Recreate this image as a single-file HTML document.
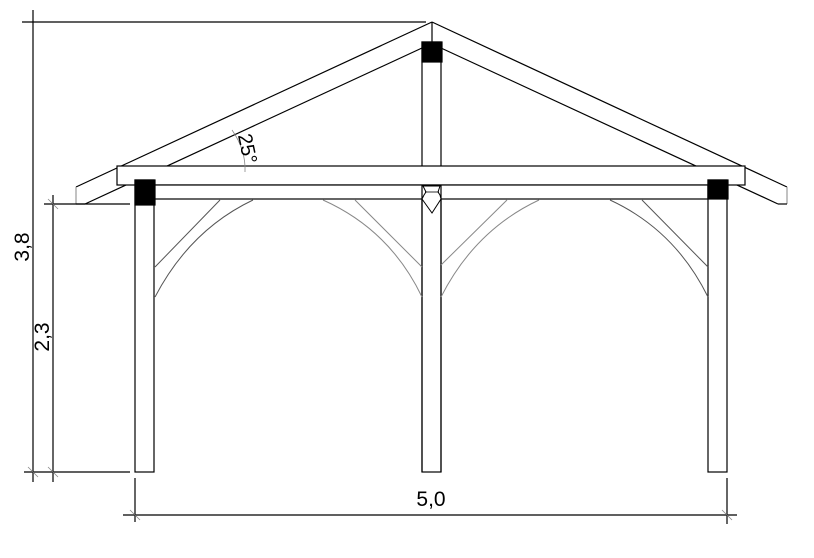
<!DOCTYPE html>
<html><head><meta charset="utf-8"><style>
html,body{margin:0;padding:0;background:#fff;}
svg{display:block;}
text{font-family:"Liberation Sans",sans-serif;fill:#000;}
</style></head><body>
<svg width="814" height="558" viewBox="0 0 814 558" xmlns="http://www.w3.org/2000/svg">
<g fill="none" stroke="#000" stroke-width="1.2">
<polygon points="432,22 787,187 787,204 778,204 441,48 422,48 85,204 76,204 76,187" fill="#fff" stroke="none"/>
<line x1="432" y1="22" x2="76" y2="187"/>
<line x1="432" y1="22" x2="787" y2="187"/>
<line x1="422" y1="48" x2="85" y2="204"/>
<line x1="441" y1="48" x2="778" y2="204"/>
<line x1="76" y1="187" x2="76" y2="204" stroke="#999"/>
<line x1="787" y1="187" x2="787" y2="204" stroke="#999"/>
<line x1="778" y1="204" x2="787" y2="204"/>
<line x1="76" y1="204" x2="85" y2="204"/>
<rect x="422" y="42" width="19" height="430" fill="#fff"/>
<line x1="432" y1="22" x2="432" y2="42"/>
<rect x="117" y="166" width="628" height="19" fill="#fff"/>
<rect x="154" y="185" width="554" height="14" fill="#fff"/>
<rect x="135" y="180" width="19" height="292" fill="#fff"/>
<rect x="708" y="180" width="19" height="292" fill="#fff"/>
<line x1="422" y1="185" x2="422" y2="472"/>
<line x1="441" y1="185" x2="441" y2="472"/>
<rect x="135" y="180" width="20" height="25" fill="#000"/>
<rect x="708" y="180" width="20" height="19" fill="#000"/>
<rect x="422" y="42" width="20" height="20" fill="#000"/>
<path d="M423,186 L440,186 L438,192 L440,195 L441,199 L432,213 L422,199 L424,195 L426,192 Z" fill="#fff" stroke-width="1"/>
<line x1="425" y1="192" x2="439" y2="192" stroke-width="0.8"/>
<g stroke="#555" stroke-width="1">
<line x1="220" y1="200" x2="155" y2="267"/>
<path d="M253,200 Q190,230 155,297"/>
<line x1="355" y1="200" x2="422" y2="267" stroke="#888"/>
<path d="M323,200 Q390,230 422,297" stroke="#888"/>
<line x1="507" y1="200" x2="441" y2="265" stroke="#888"/>
<path d="M539,200 Q475,230 441,297" stroke="#888"/>
<line x1="642" y1="200" x2="708" y2="267"/>
<path d="M610,200 Q675,230 708,297"/>
</g>
<line x1="22" y1="22" x2="426" y2="22"/>
<line x1="33" y1="10" x2="33" y2="482"/>
<line x1="53" y1="195" x2="53" y2="482"/>
<line x1="24" y1="472" x2="130" y2="472"/>
<line x1="44" y1="204" x2="130" y2="204"/>
<line x1="123" y1="515" x2="737" y2="515"/>
<line x1="135" y1="478" x2="135" y2="522"/>
<line x1="727" y1="478" x2="727" y2="524"/>
<g stroke="#888" stroke-width="0.8">
<line x1="28" y1="467" x2="38" y2="477"/>
<line x1="48" y1="467" x2="58" y2="477"/>
<line x1="48" y1="199" x2="58" y2="209"/>
<line x1="130" y1="510" x2="140" y2="520"/>
<line x1="722" y1="510" x2="732" y2="520"/>
<path d="M232,130 Q246,150 245,172"/>
</g>
</g>
<text x="0" y="0" font-size="21" transform="translate(29,247) rotate(-90)" text-anchor="middle">3,8</text>
<text x="0" y="0" font-size="21" transform="translate(49,337) rotate(-90)" text-anchor="middle">2,3</text>
<text x="0" y="0" font-size="20" transform="translate(241,150) rotate(78)" text-anchor="middle">25°</text>
<text x="431" y="506" font-size="21" text-anchor="middle">5,0</text>
</svg>
</body></html>
